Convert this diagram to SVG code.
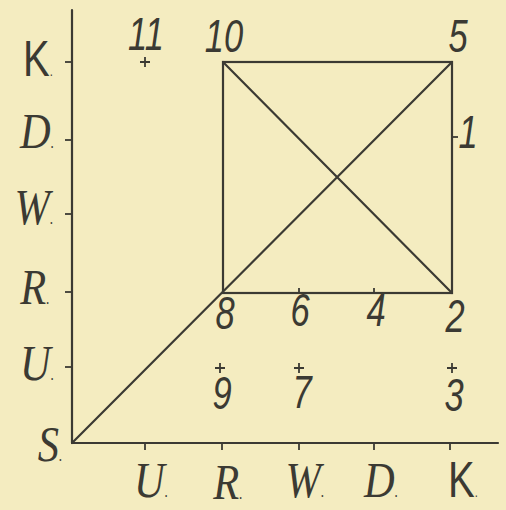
<svg xmlns="http://www.w3.org/2000/svg" width="506" height="510" viewBox="0 0 506 510">
<style>
.ln{stroke:#3b3a33;stroke-width:2.2;fill:none;stroke-linecap:round}
.tk{stroke:#3b3a33;stroke-width:1.8;fill:none}
.num{font-family:"Liberation Sans",Arial,sans-serif;font-style:italic;font-size:46px;fill:#3b3a33;text-anchor:middle}
.scr{font-family:"Liberation Serif","Times New Roman",serif;font-style:italic;font-size:50px;fill:#3b3a33;text-anchor:middle}
.kk{font-family:"Liberation Sans",Arial,sans-serif;font-size:50px;fill:#3b3a33;text-anchor:middle}
</style>
<rect width="506" height="510" fill="#f4ecc0"/>
<g id="axes">
<line class="ln" x1="72" y1="10" x2="72" y2="443"/>
<line class="ln" x1="72" y1="443" x2="498" y2="443"/>
<g class="tk">
<line x1="65" y1="62" x2="72" y2="62"/>
<line x1="65" y1="140" x2="72" y2="140"/>
<line x1="65" y1="214" x2="72" y2="214"/>
<line x1="65" y1="292" x2="72" y2="292"/>
<line x1="65" y1="367" x2="72" y2="367"/>
<line x1="145" y1="443" x2="145" y2="450"/>
<line x1="222" y1="443" x2="222" y2="450"/>
<line x1="299" y1="443" x2="299" y2="450"/>
<line x1="374" y1="443" x2="374" y2="450"/>
<line x1="450" y1="443" x2="450" y2="450"/>
</g>
</g>
<g id="axis-labels">
<text class="kk" transform="translate(38,76) scale(0.8,1)">K<tspan font-size="14">.</tspan></text>
<text class="scr" transform="translate(37,148) scale(0.85,1)">D<tspan font-size="16">.</tspan></text>
<text class="scr" transform="translate(34,224) scale(0.85,1)">W<tspan font-size="16">.</tspan></text>
<text class="scr" transform="translate(35,304) scale(0.85,1)">R<tspan font-size="16">.</tspan></text>
<text class="scr" transform="translate(37,380) scale(0.85,1)">U<tspan font-size="16">.</tspan></text>
<text class="scr" transform="translate(50,461) scale(0.85,1)">S<tspan font-size="16">.</tspan></text>
<text class="scr" transform="translate(151,497) scale(0.85,1)">U<tspan font-size="16">.</tspan></text>
<text class="scr" transform="translate(228,499) scale(0.85,1)">R<tspan font-size="16">.</tspan></text>
<text class="scr" transform="translate(305,497) scale(0.85,1)">W<tspan font-size="16">.</tspan></text>
<text class="scr" transform="translate(381,497) scale(0.85,1)">D<tspan font-size="16">.</tspan></text>
<text class="kk" transform="translate(463,497) scale(0.8,1)">K<tspan font-size="14">.</tspan></text>
</g>
<g id="connectors">
<rect class="ln" x="223" y="62" width="229" height="231"/>
<line class="ln" x1="223" y1="62" x2="452" y2="293"/>
<line class="ln" x1="72" y1="443" x2="452" y2="62"/>
<g class="tk">
<line x1="299" y1="293" x2="299" y2="288"/>
<line x1="374" y1="293" x2="374" y2="288"/>
<line x1="452" y1="137" x2="458" y2="137"/>
</g>
</g>
<g id="points" class="tk">
<path d="M140 62h10M145 57v10"/>
<path d="M215 368h10M220 363v10"/>
<path d="M294 368h10M299 363v10"/>
<path d="M447 368h10M452 363v10"/>
</g>
<g id="numbers">
<text class="num" transform="translate(146,50) scale(0.75,1)">11</text>
<text class="num" transform="translate(224,52) scale(0.75,1)">10</text>
<text class="num" transform="translate(458,52) scale(0.75,1)">5</text>
<text class="num" transform="translate(468,148) scale(0.75,1)">1</text>
<text class="num" transform="translate(225,329) scale(0.75,1)">8</text>
<text class="num" transform="translate(300,326) scale(0.75,1)">6</text>
<text class="num" transform="translate(376,326) scale(0.75,1)">4</text>
<text class="num" transform="translate(455,332) scale(0.75,1)">2</text>
<text class="num" transform="translate(222,409) scale(0.75,1)">9</text>
<text class="num" transform="translate(302,408) scale(0.75,1)">7</text>
<text class="num" transform="translate(454,411) scale(0.75,1)">3</text>
</g>
</svg>
